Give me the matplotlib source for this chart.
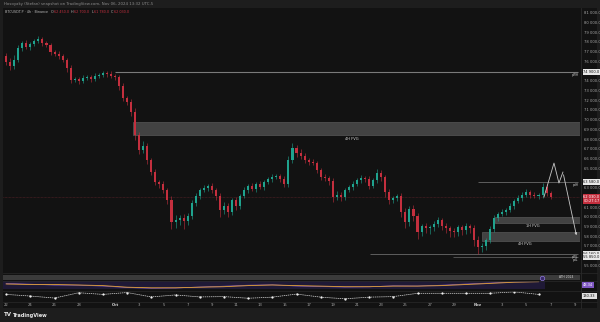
import matplotlib

matplotlib.use("Agg")
import matplotlib.pyplot as plt
import matplotlib.transforms as mtransforms
import numpy as np
from matplotlib.patches import Rectangle

W, H = 600, 322

# 8h candles, day 0 = 1 Oct
start_day = -9.0
candle_step = 1 / 3
first_open = 76560
closes = [
    75940, 75530, 76140, 77380, 77900, 77480, 77790, 78100, 78310, 77900,
    77690, 76970, 76760, 76560, 76140, 75320, 74080, 74190, 73980, 74290,
    74390, 74190, 74500, 74600, 74800, 74700, 74500, 74390, 73470, 72230,
    71820, 70790, 68420, 66870, 67290, 65840, 64610, 63580, 63370, 62750,
    61720, 59460, 59660, 59870, 59560, 60080, 61420, 62140, 62750, 62960,
    63170, 62750, 62140, 60690, 61110, 60490, 61720, 61110, 62140, 62750,
    63170, 62860, 63370, 63060, 63580, 63890, 64090, 64200, 63890, 63370,
    65840, 67080, 66570, 66260, 65840, 65640, 65540, 64810, 64090, 63990,
    63680, 62030, 62240, 62030, 62750, 63060, 63370, 63780, 63990, 63890,
    63170, 63780, 64500, 64090, 62550, 61720, 61930, 62140, 60490, 59460,
    60800, 60080, 58430, 59050, 58840, 58940, 59250, 59660, 59050, 58840,
    58530, 58430, 58940, 58630, 59050, 58840, 57600, 56880, 56990, 57600,
    58740, 59870, 60280, 60490, 60690, 61110, 61620, 61930, 62240, 62550,
    62240, 62140, 62240, 63060, 62450, 62030,
]
up_wick = [
    300, 400, 500, 300, 250, 300, 250, 200, 300, 250,
    200, 250, 200, 300, 200, 250, 300, 200, 250, 300,
    200, 250, 300, 200, 250, 200, 300, 250, 200, 300,
    250, 300, 400, 300, 500, 300, 250, 300, 200, 300,
    250, 400, 500, 300, 400, 300, 350, 300, 250, 300,
    200, 300, 250, 300, 400, 300, 250, 300, 250, 300,
    200, 300, 250, 300, 200, 250, 300, 200, 250, 300,
    400, 500, 300, 400, 300, 250, 300, 250, 200, 300,
    250, 300, 400, 300, 250, 200, 300, 250, 300, 250,
    300, 250, 400, 300, 250, 300, 250, 200, 300, 400,
    300, 400, 300, 250, 300, 250, 300, 350, 250, 300,
    250, 300, 250, 200, 300, 250, 300, 400, 300, 250,
    300, 350, 250, 300, 250, 300, 250, 300, 350, 300,
    250, 300, 250, 400, 300, 250,
]
dn_wick = [
    300, 400, 300, 250, 300, 250, 300, 200, 250, 300,
    250, 300, 250, 300, 250, 400, 300, 250, 300, 200,
    250, 300, 200, 250, 200, 300, 250, 300, 400, 300,
    350, 400, 500, 400, 300, 400, 350, 300, 400, 350,
    400, 700, 600, 500, 800, 400, 300, 350, 300, 250,
    300, 350, 400, 700, 400, 500, 300, 400, 300, 250,
    300, 250, 300, 250, 300, 250, 300, 250, 300, 350,
    300, 350, 400, 300, 350, 300, 250, 300, 350, 300,
    400, 500, 350, 400, 300, 250, 300, 250, 300, 350,
    300, 250, 300, 400, 500, 400, 350, 300, 500, 600,
    400, 500, 700, 400, 500, 600, 400, 300, 400, 500,
    600, 500, 400, 500, 400, 500, 600, 700, 500, 400,
    300, 350, 300, 250, 300, 250, 300, 250, 300, 250,
    300, 250, 300, 350, 300, 250,
]

# levels and zones
pwh = 74900
pdh = 63580
pwl = 56160
pdl = 55850
fvg_4h_top = (68420, 69760)
fvg_1h = (59355, 59975)
fvg_4h_low = (57500, 58430)
proj_days = [35.45, 36.28, 36.69, 37.02, 38.18]
proj_prices = [62030, 65530, 63470, 64600, 57810]

# oscillator panes (every 2 days from day -9)
osc_days = [-9, -7, -5, -3, -1, 1, 3, 5, 7, 9, 11, 13, 15, 17, 19, 21, 23, 25, 27, 29, 31, 33, 35]
osc_orange = [60, 55, 55, 50, 44, 28, 22, 22, 28, 33, 44, 50, 44, 39, 33, 33, 39, 39, 44, 55, 66, 78, 83]
osc_purple = [66, 58, 50, 48, 40, 25, 18, 20, 30, 38, 48, 52, 40, 35, 30, 32, 42, 40, 48, 60, 70, 80, 85]
osc_white = [60, 45, 27, 75, 60, 77, 37, 55, 37, 40, 25, 35, 63, 35, 20, 35, 40, 70, 70, 70, 70, 83, 60]

tick_days = [-9, -7, -5, -3, 0, 2, 4, 6, 8, 10, 12, 14, 16, 18, 20, 22, 24, 26, 28, 30, 32, 34, 36, 38]
tick_labels = ["22", "24", "26", "28", "Oct", "3", "5", "7", "9", "11", "13", "15", "17", "19",
               "21", "23", "25", "27", "29", "Nov", "3", "5", "7", "9"]

BG = "#121212"
PANEL = "#1d1d1d"
GRID = "#2a2a2a"
UP = "#1fa38e"
DOWN = "#c42f3e"
TXT = "#a8a8a8"
XLIM = (-9.26, 38.43)


def rect(x0, y0, x1, y1):
    return [x0 / W, 1 - y1 / H, (x1 - x0) / W, (y1 - y0) / H]


def fmt(p):
    return f"{p:,.1f}".replace(",", " ")


fig = plt.figure(figsize=(W / 100, H / 100), dpi=100, facecolor=PANEL)
bg = fig.add_axes(rect(3, 8, 597, 308))
bg.set_facecolor(BG)
bg.set_xticks([])
bg.set_yticks([])
for s in bg.spines.values():
    s.set_visible(False)

fig.text(4 / W, 1 - 4 / H, "Hosoyaky (Stefan) snapshot on TradingView.com, Nov 06, 2024 13:32 UTC-5",
         fontsize=2.8, color="#8c8c8c", va="center")

# ---- main price pane
ax = fig.add_axes(rect(3, 8, 580, 272))
ax.set_facecolor(BG)
ax.set_xlim(*XLIM)
ax.set_ylim(54308, 81500)
for s in ax.spines.values():
    s.set_visible(False)

c = np.array(closes, dtype=float)
o = np.concatenate([[first_open], c[:-1]])
days = start_day + np.arange(len(c)) * candle_step
hi = np.maximum(o, c) + np.array(up_wick)
lo = np.minimum(o, c) - np.array(dn_wick)
cols = np.where(c >= o, UP, DOWN)
ax.vlines(days, lo, hi, colors=cols, lw=0.4, zorder=3)
body = np.where(np.abs(c - o) < 60, 60, c - o)
ax.bar(days, body, bottom=o, width=0.17, color=cols, lw=0, zorder=4)

ax.axhline(c[-1], color="#5a2228", lw=0.5, ls=(0, (1, 1)), zorder=1)

for lo_p, hi_p, d0 in [(fvg_4h_top[0], fvg_4h_top[1], 1.49),
                       (fvg_1h[0], fvg_1h[1], 31.4),
                       (fvg_4h_low[0], fvg_4h_low[1], 30.3)]:
    ax.add_patch(Rectangle((d0, lo_p), XLIM[1] - d0, hi_p - lo_p, facecolor="#424242",
                           edgecolor="#575757", lw=0.5, zorder=2))
ax.text(19.6, 68000, "4H FVG", fontsize=2.6, color="#d8d8d8", ha="center", va="center", zorder=5)
ax.text(34.5, 59050, "1H FVG", fontsize=2.6, color="#d8d8d8", ha="center", va="center", zorder=5)
ax.text(33.9, 57170, "4H FVG", fontsize=2.6, color="#d8d8d8", ha="center", va="center", zorder=5)

ax.hlines(pwh, 0.0, 38.26, color="#7a7a7a", lw=0.8, zorder=2)
ax.hlines(pdh, 30.0, 38.26, color="#6a6a6a", lw=0.6, zorder=2)
ax.hlines(pwl, 21.1, 38.26, color="#6a6a6a", lw=0.6, zorder=2)
ax.hlines(pdl, 27.9, 38.26, color="#5a5a5a", lw=0.6, zorder=2)
for p, lab in [(pwh, "pWH"), (pdh, "pdH"), (pwl, "pWL"), (pdl, "pdL")]:
    ax.text(38.3, p - 120, lab, fontsize=2.2, color="#c8c8c8", ha="right", va="top", zorder=5)

ax.plot(proj_days[:-1], proj_prices[:-1], color="#c8c8c8", lw=0.6, zorder=5)
ax.annotate("", xy=(proj_days[-1], proj_prices[-1]), xytext=(proj_days[-2], proj_prices[-2]),
            arrowprops=dict(arrowstyle="-|>", color="#c8c8c8", lw=0.6, mutation_scale=3), zorder=5)

specials = [pwh, pdh, c[-1], pwl, pdl]
ticks = [p for p in range(55000, 81001, 1000) if all(abs(p - s) > 450 for s in specials)]
ax.yaxis.tick_right()
ax.set_yticks(ticks)
ax.set_yticklabels([fmt(p) for p in ticks])
ax.tick_params(axis="y", length=0, labelsize=2.7, labelcolor=TXT, pad=3)
ax.set_xticks([])

tr = mtransforms.blended_transform_factory(ax.transAxes, ax.transData)
for p in [pwh, pdh, pwl, pdl]:
    ax.text(1.006, p, fmt(p), transform=tr, fontsize=2.6, color="#111111", va="center", ha="left",
            bbox=dict(boxstyle="square,pad=0.25", fc="#e8e8e8", ec="none"), clip_on=False)
ax.text(1.006, c[-1] - 200, fmt(c[-1]) + "\n00:27:17", transform=tr, fontsize=2.6, color="white",
        va="center", ha="left", linespacing=1.1,
        bbox=dict(boxstyle="square,pad=0.25", fc="#c42f3e", ec="none"), clip_on=False)

# legend row, pieces laid out one after another
renderer = fig.canvas.get_renderer()
x_px = 5.0
legend_parts = [("BTCUSDT.P · 4h · Binance", "#b8b8b8"), ("O", "#b8b8b8"), (fmt(o[-1]), DOWN),
                ("H", "#b8b8b8"), (fmt(hi[-1]), DOWN), ("L", "#b8b8b8"), (fmt(lo[-1]), DOWN),
                ("C", "#b8b8b8"), (fmt(c[-1]), DOWN)]
for i, (s, col) in enumerate(legend_parts):
    t = fig.text(x_px / W, 1 - 12 / H, s, fontsize=2.4, color=col, va="center")
    width = t.get_window_extent(renderer).width
    x_px += width + (0.6 if col != DOWN and i > 0 else 2.2)

# ---- grey band pane
band = fig.add_axes(rect(3, 275, 580, 280))
band.set_xlim(*XLIM)
band.set_ylim(0, 1)
band.axis("off")
band.add_patch(Rectangle((0, 0), 1, 1, transform=band.transAxes, fc="#3b3b3b", ec="none"))
band.plot([35.3], [0.5], "o", ms=3.2, mfc="#3a2a6a", mec="#8f7ad8", mew=0.5)
band.text(37.9, 0.5, "ATH 2024", fontsize=2.2, color="#d0d0d0", ha="right", va="center")

# ---- oscillator pane
osc = fig.add_axes(rect(3, 280, 580, 290))
osc.set_xlim(*XLIM)
osc.set_ylim(0, 100)
osc.axis("off")
osc.fill_between([XLIM[0], 35.5], 15, 90, color="#1f1936", lw=0)
osc.fill_between(osc_days, osc_purple, osc_orange, color="#4a3a8a", alpha=0.6, lw=0)
osc.plot(osc_days, osc_purple, color="#7e57c2", lw=0.5)
osc.plot(osc_days, osc_orange, color="#e0a030", lw=0.6)
fig.text(583 / W, 1 - 285 / H, "48.34", fontsize=2.6, color="white", va="center",
         bbox=dict(boxstyle="square,pad=0.3", fc="#7e57c2", ec="none"))

# ---- lower line pane
low = fig.add_axes(rect(3, 290, 580, 301))
low.set_facecolor(BG)
low.set_xlim(*XLIM)
low.set_ylim(0, 100)
for s in low.spines.values():
    s.set_visible(False)
low.plot(osc_days, osc_white, color="#d8d8d8", lw=0.5, ls=(0, (2, 1)))
low.plot(osc_days, osc_white, ".", color="white", ms=1.2)
low.set_yticks([])
low.set_xticks(tick_days)
low.set_xticklabels(tick_labels)
low.tick_params(axis="x", length=0, labelsize=2.7, labelcolor=TXT, pad=1.2)
for t in low.get_xticklabels():
    if t.get_text() in ("Oct", "Nov"):
        t.set_fontweight("bold")
        t.set_color("#d8d8d8")
fig.text(583 / W, 1 - 296 / H, "130.33", fontsize=2.6, color="#111111", va="center",
         bbox=dict(boxstyle="square,pad=0.3", fc="#e0e0e0", ec="none"))

# separators
for y in (272.5, 280.5, 290.5, 301.5):
    fig.add_artist(plt.Line2D([3 / W, 597 / W], [1 - y / H] * 2, color=GRID, lw=0.5))
fig.add_artist(plt.Line2D([580.5 / W] * 2, [1 - 8 / H, 1 - 308 / H], color=GRID, lw=0.6))

# footer
fig.text(4 / W, 1 - 315 / H, "TV", fontsize=4, color="#e8e8e8", fontweight="bold", va="center")
fig.text(13 / W, 1 - 315 / H, "TradingView", fontsize=3.6, color="#e8e8e8", fontweight="bold", va="center")

fig.savefig("out.png", dpi=100, facecolor=PANEL)
